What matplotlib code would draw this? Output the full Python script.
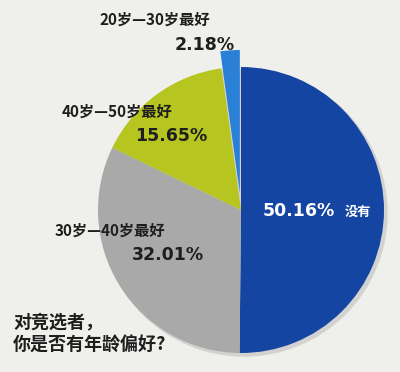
import matplotlib
matplotlib.use("Agg")
import matplotlib.pyplot as plt
from matplotlib.patches import Circle

# Data
categories = ["没有", "30岁—40岁最好", "40岁—50岁最好", "20岁—30岁最好"]
values = [50.16, 32.01, 15.65, 2.18]
pct_labels = ["50.16%", "32.01%", "15.65%", "2.18%"]
colors = ["#1445a2", "#a9a9a9", "#b6c520", "#2a7fd6"]
title_lines = ["对竞选者，", "你是否有年龄偏好?"]

W, H = 400, 372
fig = plt.figure(figsize=(4, 3.72), dpi=100)
fig.patch.set_facecolor("#efefec")
ax = fig.add_axes([0, 0, 1, 1])
ax.set_facecolor("#efefec")

cx, cy, r = 241, H - 210, 143
explode = [0, 0, 0, 17]  # offset in pixels (data units)
# subtle shadow
ax.add_patch(Circle((cx + 3, cy - 3), r, color="#d2d2d0", zorder=0))
ax.pie(values, colors=colors, explode=explode, startangle=90, counterclock=False,
       center=(cx, cy), radius=r, wedgeprops=dict(linewidth=0), frame=False)
ax.set_xlim(0, W)
ax.set_ylim(0, H)
ax.set_aspect("equal")
ax.axis("off")

cjk = ["Noto Sans CJK SC", "DejaVu Sans"]
dark = "#1e1e1e"

def T(x, y, s, size, family=cjk, color=dark, weight="bold"):
    ax.text(x, H - y, s, fontsize=size, family=family, color=color,
            weight=weight, ha="left", va="center")

num_font = ["DejaVu Sans"]
# 20-30
T(100, 20, categories[3], 11)
T(175, 45, pct_labels[3], 12.5, family=num_font)
# 40-50
T(62, 112, categories[2], 11)
T(135, 136, pct_labels[2], 12.5, family=num_font)
# 30-40
T(55, 231, categories[1], 11)
T(132, 255, pct_labels[1], 12.5, family=num_font)
# none
T(263, 211, pct_labels[0], 12.5, family=num_font, color="white")
T(345, 212, categories[0], 9.5, color="white")
# title
T(13, 322, title_lines[0], 13)
T(13, 345, title_lines[1], 13)

fig.savefig("out.png", dpi=100, facecolor=fig.get_facecolor())
